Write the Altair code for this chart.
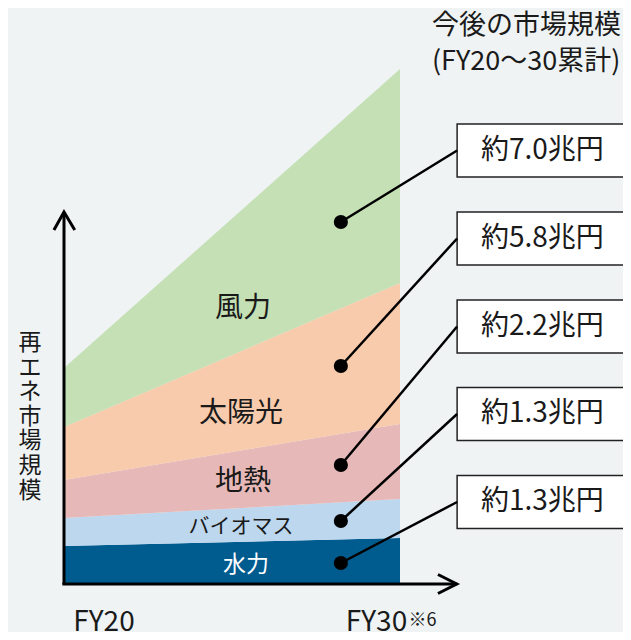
import altair as alt
import pandas as pd

# ---- data ----
series = ["水力", "バイオマス", "地熱", "太陽光", "風力"]
years = [2020, 2030]
fy20 = [3.8, 2.8, 3.8, 5.3, 5.9]
fy30 = [4.6, 3.9, 7.5, 14.1, 21.4]
colors = ["#005b8f", "#bdd7ee", "#e6b9b8", "#f8cbad", "#c5e0b4"]
totals = ["約1.3兆円", "約1.3兆円", "約2.2兆円", "約5.8兆円", "約7.0兆円"]

# ---- annotation layout (data units) ----
label_x = [2025.42, 2025.27, 2025.33, 2025.27, 2025.33]
label_y = [1.9, 5.7, 10.2, 17.0, 27.5]
label_size = [23, 21, 28, 28, 28]
label_color = ["#ffffff", "#1a1a1a", "#1a1a1a", "#1a1a1a", "#1a1a1a"]
dot_x = 2028.24
dot_y = [2.1, 6.3, 11.9, 21.8, 36.2]
box_mid = [8.2, 17.0, 25.75, 34.55, 43.35]
box_half = 2.65
box_left = 2031.70
box_right = 2038.5
box_text_x = 2032.41

FONT = "Noto Sans CJK JP"
TXT = "#1a1a1a"

xs = alt.Scale(domain=[2020, 2030], nice=False, zero=False)
ys = alt.Scale(domain=[0, 52], nice=False, zero=False)

rows = []
for i, s in enumerate(series):
    rows.append({"series": s, "order": i, "year": years[0], "value": fy20[i]})
    rows.append({"series": s, "order": i, "year": years[1], "value": fy30[i]})
df = pd.DataFrame(rows)

area = alt.Chart(df).mark_area(opacity=1, interpolate="linear").encode(
    x=alt.X("year:Q", scale=xs, axis=None),
    y=alt.Y("value:Q", scale=ys, axis=None, stack="zero"),
    color=alt.Color("series:N", scale=alt.Scale(domain=series, range=colors), legend=None),
    order=alt.Order("order:Q", sort="ascending"),
)

lab_df = pd.DataFrame({"t": series, "x": label_x, "y": label_y,
                       "size": label_size, "c": label_color})
labels = alt.Chart(lab_df).mark_text(font=FONT, align="center", baseline="middle").encode(
    x=alt.X("x:Q", scale=xs, axis=None),
    y=alt.Y("y:Q", scale=ys, axis=None),
    text="t:N",
    size=alt.Size("size:Q", scale=None, legend=None),
    color=alt.Color("c:N", scale=None, legend=None),
)

ann_df = pd.DataFrame({
    "t": totals,
    "dx": [dot_x] * 5,
    "dy": dot_y,
    "bl": [box_left] * 5,
    "br": [box_right] * 5,
    "bm": box_mid,
    "bt": [m + box_half for m in box_mid],
    "bb": [m - box_half for m in box_mid],
    "tx": [box_text_x] * 5,
})

leaders = alt.Chart(ann_df).mark_rule(color="#000000", strokeWidth=2.5).encode(
    x=alt.X("dx:Q", scale=xs, axis=None),
    y=alt.Y("dy:Q", scale=ys, axis=None),
    x2="bl:Q",
    y2="bm:Q",
)
dots = alt.Chart(ann_df).mark_circle(color="#000000", opacity=1, size=200).encode(
    x=alt.X("dx:Q", scale=xs, axis=None),
    y=alt.Y("dy:Q", scale=ys, axis=None),
)
boxes = alt.Chart(ann_df).mark_rect(fill="#ffffff", stroke="#222222", strokeWidth=1.5).encode(
    x=alt.X("bl:Q", scale=xs, axis=None),
    x2="br:Q",
    y=alt.Y("bb:Q", scale=ys, axis=None),
    y2="bt:Q",
)
box_text = alt.Chart(ann_df).mark_text(font=FONT, fontSize=28, align="left",
                                       baseline="middle", color=TXT).encode(
    x=alt.X("tx:Q", scale=xs, axis=None),
    y=alt.Y("bm:Q", scale=ys, axis=None),
    text="t:N",
)

# ---- axes with arrows ----
axis_lines = pd.DataFrame({
    "x": [2020.0, 2019.95], "y": [0.0, 0.0],
    "x2": [2020.0, 2031.69], "y2": [37.2, 0.0],
})
axes = alt.Chart(axis_lines).mark_rule(color="#000000", strokeWidth=3).encode(
    x=alt.X("x:Q", scale=xs, axis=None),
    y=alt.Y("y:Q", scale=ys, axis=None),
    x2="x2:Q",
    y2="y2:Q",
)
arrow_df = pd.DataFrame({
    "g": ["v", "v", "v", "h", "h", "h"],
    "o": [0, 1, 2, 0, 1, 2],
    "x": [2019.70, 2020.0, 2020.32, 2031.13, 2031.69, 2031.13],
    "y": [35.4, 37.2, 35.4, 0.95, 0.0, -0.95],
})
arrows = alt.Chart(arrow_df).mark_line(color="#000000", strokeWidth=3,
                                       strokeJoin="miter", strokeCap="butt").encode(
    x=alt.X("x:Q", scale=xs, axis=None),
    y=alt.Y("y:Q", scale=ys, axis=None),
    detail="g:N",
    order="o:Q",
)

# ---- axis texts ----
fy_df = pd.DataFrame({"t": ["FY20", "FY30"], "x": [2021.19, 2029.30], "y": [-4.65, -4.65]})
fy_text = alt.Chart(fy_df).mark_text(font=FONT, fontSize=28, align="center",
                                     baseline="alphabetic", color=TXT).encode(
    x=alt.X("x:Q", scale=xs, axis=None),
    y=alt.Y("y:Q", scale=ys, axis=None),
    text="t:N",
)
note_df = pd.DataFrame({"t": ["※6"], "x": [2030.25], "y": [-4.2]})
note_text = alt.Chart(note_df).mark_text(font=FONT, fontSize=18, align="left",
                                         baseline="alphabetic", color=TXT).encode(
    x=alt.X("x:Q", scale=xs, axis=None),
    y=alt.Y("y:Q", scale=ys, axis=None),
    text="t:N",
)
ytitle_df = pd.DataFrame({"t": ["再\nエ\nネ\n市\n場\n規\n模"], "x": [2018.99], "y": [24.1]})
ytitle = alt.Chart(ytitle_df).mark_text(font=FONT, fontSize=23, align="center",
                                        baseline="middle", lineBreak="\n",
                                        lineHeight=24.6, color=TXT).encode(
    x=alt.X("x:Q", scale=xs, axis=None),
    y=alt.Y("y:Q", scale=ys, axis=None),
    text="t:N",
)
title_df = pd.DataFrame({"t": ["今後の市場規模", "(FY20～30累計)"],
                         "x": [2030.95, 2030.95], "y": [55.8, 52.2]})
title_text = alt.Chart(title_df).mark_text(font=FONT, fontSize=27, align="left",
                                           baseline="middle", color=TXT).encode(
    x=alt.X("x:Q", scale=xs, axis=None),
    y=alt.Y("y:Q", scale=ys, axis=None),
    text="t:N",
)

chart = alt.layer(
    area, labels, axes, arrows, boxes, leaders, dots, box_text,
    fy_text, note_text, ytitle, title_text,
).properties(
    width=336,
    height=520,
    background="#eff3f4",
    padding={"left": 56, "top": 56, "right": 223, "bottom": 48},
    autosize=alt.AutoSizeParams(type="none"),
).configure_view(stroke=None)

chart.save("out.html", embed_options={"renderer": "svg", "actions": False})
